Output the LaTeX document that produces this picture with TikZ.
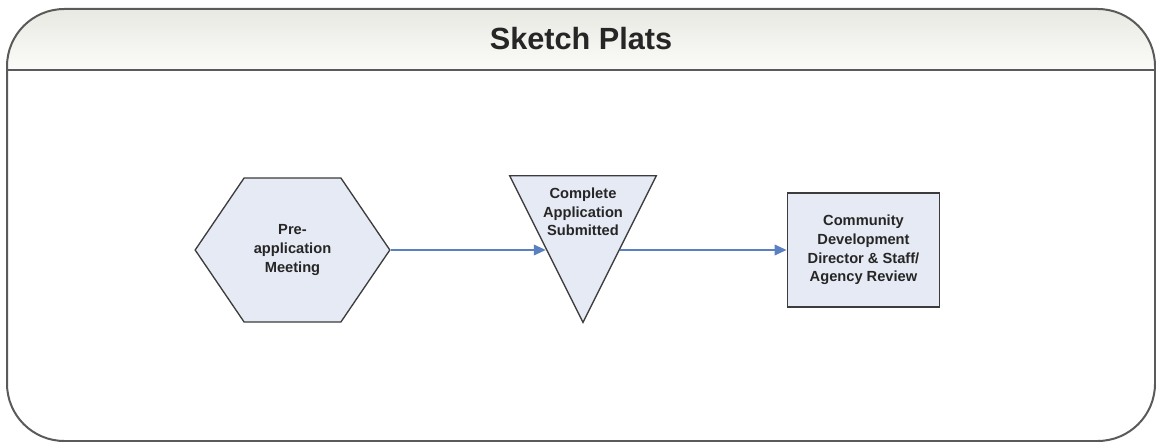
\documentclass[tikz,border=0pt]{standalone}
\usepackage{fontspec}
\setmainfont{Liberation Sans}
\usepackage{tikz}
\usetikzlibrary{positioning}
\usetikzlibrary{shapes}
\usetikzlibrary{arrows.meta}

\definecolor{framegray}{HTML}{5A5A5A}
\definecolor{headtop}{HTML}{E9E9E3}
\definecolor{headbot}{HTML}{FBFBF9}
\definecolor{stepfill}{HTML}{E6EAF4}
\definecolor{stepline}{HTML}{3C3C3C}
\definecolor{flowblue}{HTML}{5A80C0}

\tikzset{
    stepbox/.style = {draw = stepline, fill = stepfill, line width = 1, text centered,
        align = center, font = \fontsize{11}{14}\selectfont\bfseries, text = black!85},
    flow/.style = {draw = flowblue, line width = 1.2, -{Triangle[length=9pt, width=8pt]}}
}

\begin{document}
\begin{tikzpicture}[x = 0.75pt, y = -0.75pt]
    \useasboundingbox (0,0) rectangle (1156,442);
    % frame %
    \begin{scope}
        \clip[rounded corners = 43pt] (7,9) rectangle (1155,441);
        \shade[top color = headtop, bottom color = headbot] (7,9) rectangle (1155,70);
    \end{scope}
    \draw[framegray, line width = 1.5, rounded corners = 43pt] (7,9) rectangle (1155,441);
    \draw[framegray, line width = 1.8] (7,70) -- (1155,70);
    \node[font = \fontsize{23}{26}\selectfont\bfseries, text = black!85] (title) at (581,39) {Sketch Plats};
    % nodes %
    \node[stepbox, signal, signal to = east and west, signal pointer angle = 111.6,
        minimum width = 146pt, minimum height = 108pt, inner sep = 0pt] (pre) at (292.5,250) {};
    \node[font = \fontsize{11}{14}\selectfont\bfseries, text = black!85, align = center] (pretxt) at (pre) {Pre-\\application\\Meeting};
    \node[stepbox, isosceles triangle, isosceles triangle stretches, shape border rotate = -90,
        minimum width = 110pt, minimum height = 110pt, inner sep = 0pt] (sub) at (583,221) {};
    \node[font = \fontsize{11}{14}\selectfont\bfseries, text = black!85, align = center] (subtxt) at (583,212) {Complete\\Application\\Submitted};
    \node[stepbox, rectangle, minimum width = 114pt, minimum height = 85pt, line width = 1.4] (rev) at (863.5,250)
        {Community\\Development\\Director \& Staff/\\Agency Review};
    % edges %
    \draw[flow] (pre.east) -- (pre.east -| sub.right side);
    \draw[flow] (sub.left side |- rev.west) -- (rev.west);
\end{tikzpicture}
\end{document}
